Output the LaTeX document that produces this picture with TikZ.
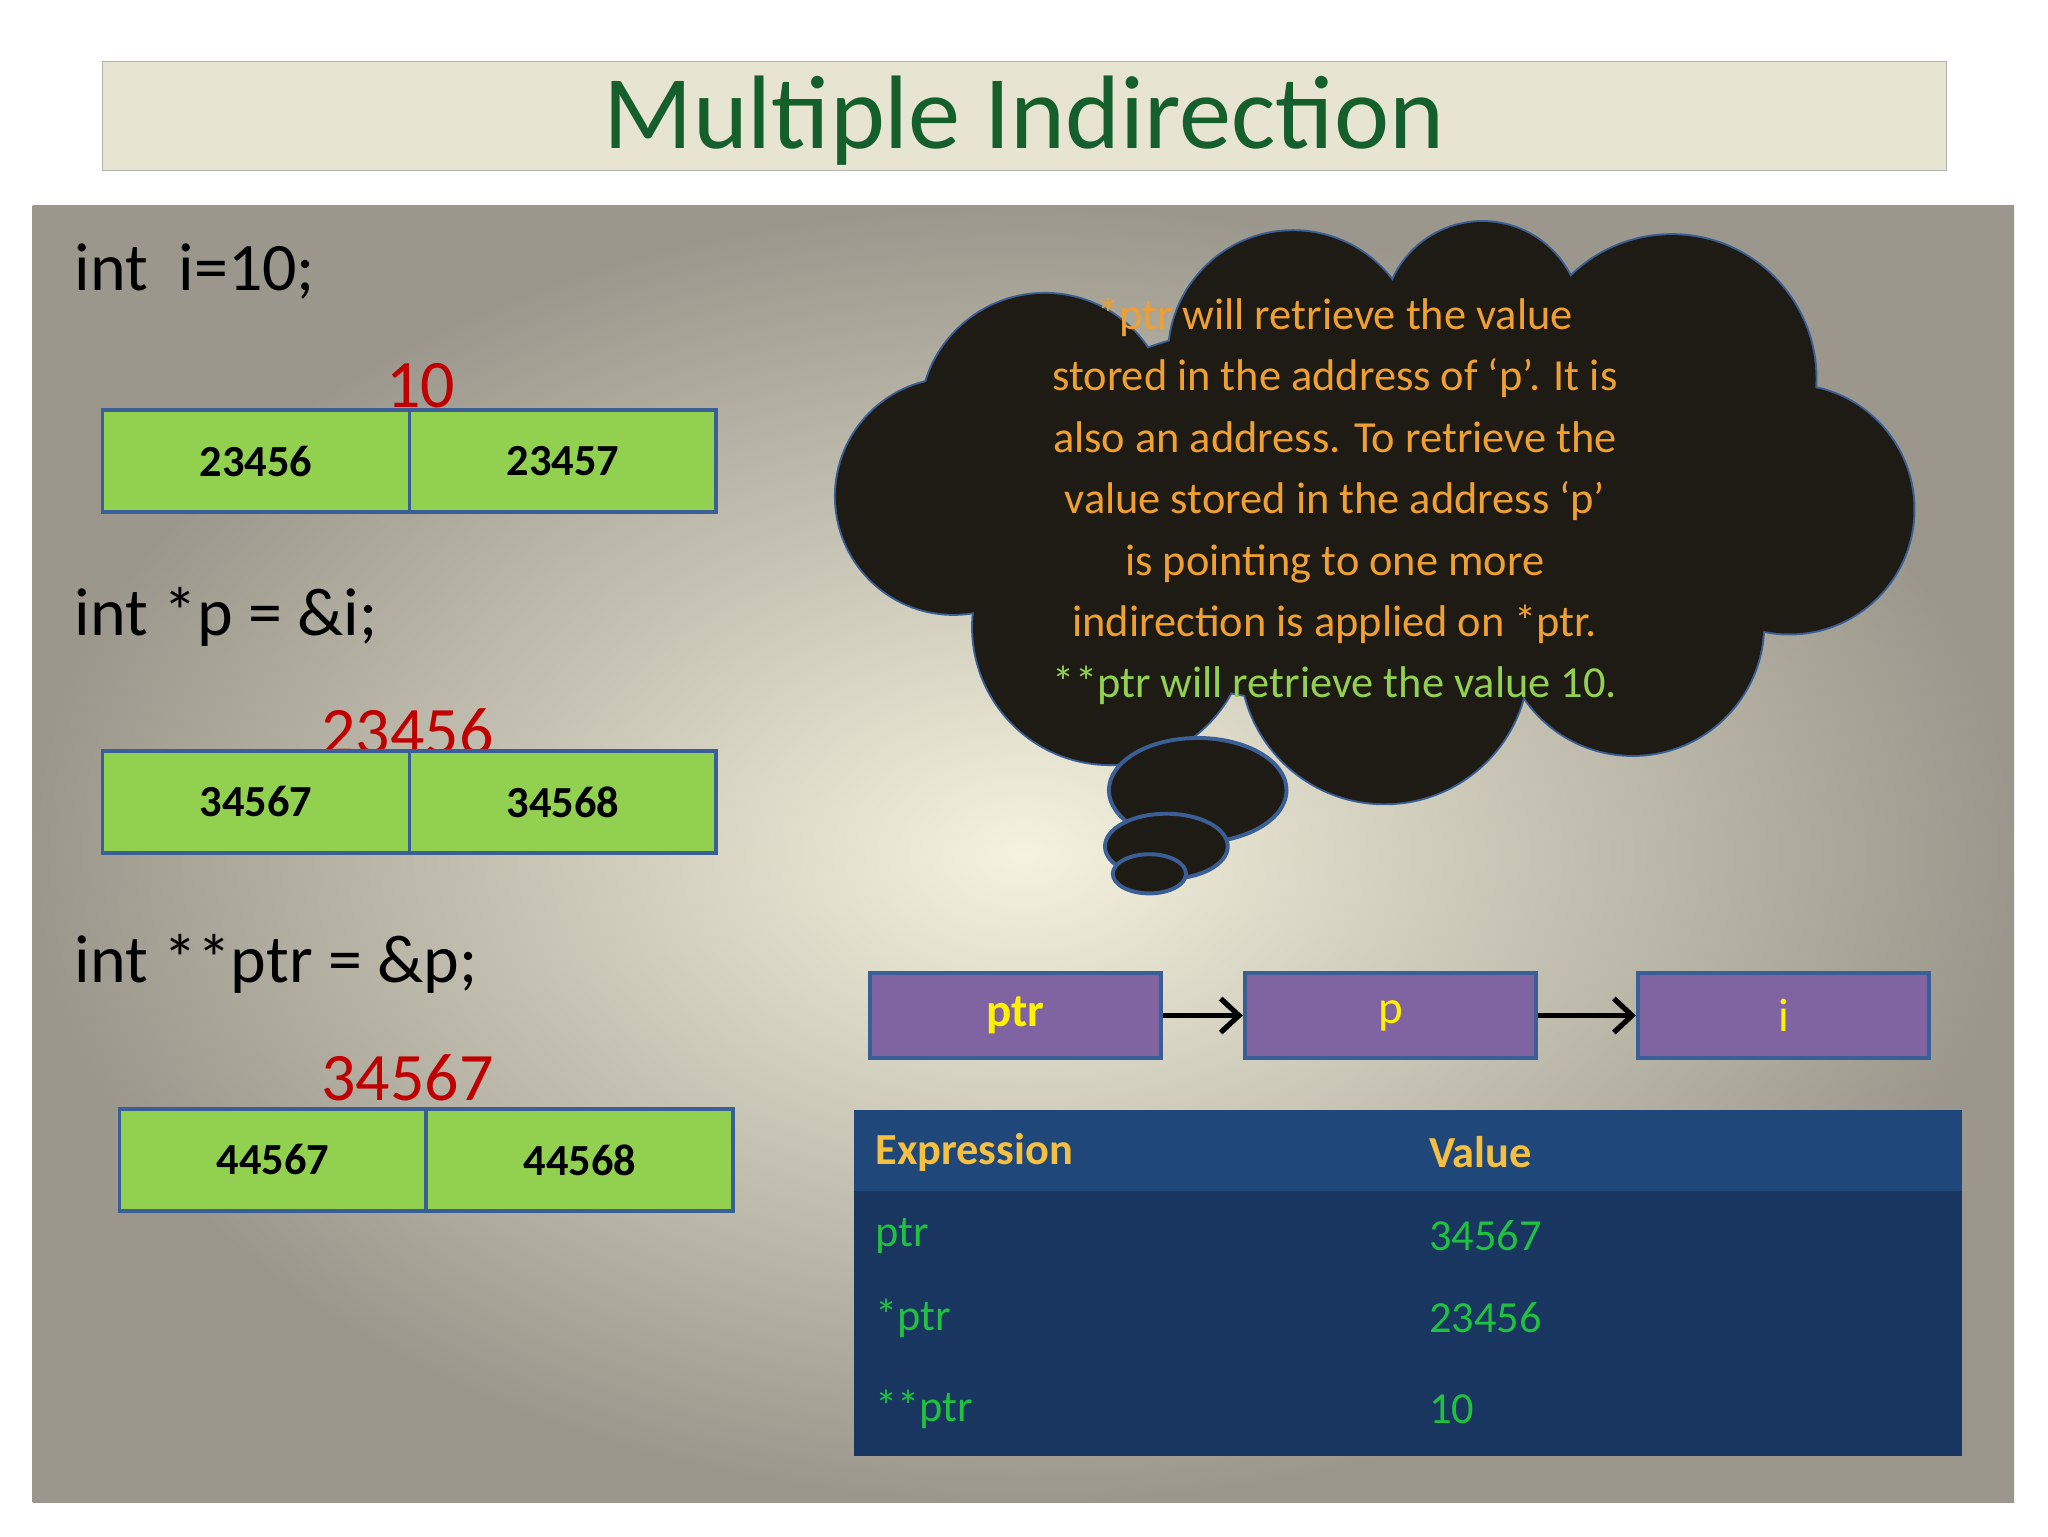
\documentclass[tikz,border=0pt]{standalone}
\usepackage{fontspec}
\setmainfont{Carlito}
\usetikzlibrary{arrows.meta,shapes.geometric}
\definecolor{bord}{HTML}{3A5F96}
\definecolor{cellg}{HTML}{92D050}
\definecolor{purp}{HTML}{8064A2}
\definecolor{redt}{HTML}{C00000}
\definecolor{cloudc}{HTML}{1E1B14}
\definecolor{orng}{HTML}{F0A030}
\definecolor{hdr}{HTML}{1F477A}
\definecolor{tbody}{HTML}{18365F}
\definecolor{tgreen}{HTML}{20C040}
\definecolor{hdrt}{HTML}{F5C040}
\tikzset{x=1pt,y=-1pt,
 cell/.style={draw=bord,line width=3pt,fill=cellg,minimum width=235pt,minimum height=78pt,font=\fontsize{34}{40}\selectfont\bfseries,inner sep=0},
 code/.style={anchor=west,font=\fontsize{52}{60}\selectfont,inner sep=0},
 redv/.style={font=\fontsize{52}{60}\selectfont,text=redt,inner sep=0},
 pbox/.style={draw=bord,line width=3pt,fill=purp,minimum width=223pt,minimum height=65pt,text=yellow,font=\fontsize{36}{40}\selectfont,inner sep=0},
 arr/.style={line width=4pt,-{Straight Barb[length=14pt,width=26pt,line width=4pt]}},
 tt/.style={anchor=west,font=\fontsize{34}{40}\selectfont,text=tgreen,inner sep=0},
}
\begin{document}
\begin{tikzpicture}
\useasboundingbox (0,0) rectangle (1568,1176);
\fill[white] (0,0) rectangle (1568,1176);
% title
\node[draw=gray!60,fill={rgb,255:red,232;green,228;blue,210},minimum width=1412pt,minimum height=83pt,inner sep=0] (title) at (784,88.5) {};
\node[font=\fontsize{80}{90}\selectfont,text={rgb,255:red,20;green,95;blue,45}] (tt) at (784,92) {Multiple Indirection};
% panel
\shade[inner color={rgb,255:red,245;green,242;blue,222},outer color={rgb,255:red,155;green,151;blue,140}] (25,157) rectangle (1542,1150);
% code
\node[code] (c1) at (57,208) {int\ \ i=10;};
\node[code] (c2) at (57,472) {int *p = \&i;};
\node[code] (c3) at (57,738) {int **ptr = \&p;};
\node[redv] (r1) at (322,295) {10};
\node[redv] (r2) at (312,560) {23456};
\node[redv] (r3) at (312,825) {34567};
\node[cell] (a1) at (196,353) {23456};
\node[cell] (a2) at (431,353) {23457};
\node[cell] (b1) at (196,614) {34567};
\node[cell] (b2) at (431,614) {34568};
\node[cell] (d1) at (209,888) {44567};
\node[cell] (d2) at (444,888) {44568};
% cloud
\def\cloudshapes{
 \path (800,320) circle (95);
 \path (990,272) circle (95);
 \path (1135,245) circle (75);
 \path (1280,290) circle (110);
 \path (1370,390) circle (95);
 \path (1250,478) circle (100);
 \path (1060,505) circle (110);
 \path (850,480) circle (105);
 \path (730,380) circle (90);
 \path (1050,390) ellipse (300 and 150);
}
\begin{scope}[every path/.style={draw=bord,line width=3pt,fill=cloudc}]
\cloudshapes
\end{scope}
\begin{scope}[every path/.style={fill=cloudc}]
\cloudshapes
\end{scope}
\draw[draw=bord,line width=3pt,fill=cloudc] (917,605) ellipse (68 and 40);
\draw[draw=bord,line width=3pt,fill=cloudc] (893,648) ellipse (47 and 25);
\draw[draw=bord,line width=3pt,fill=cloudc] (880,669) ellipse (28 and 15);
\node[align=center,text=orng,font=\fontsize{34}{47}\selectfont,inner sep=0] (ct) at (1022,384) {*ptr will retrieve the value\\stored in the address of ‘p’. It is\\also an address. To retrieve the\\value stored in the address ‘p’\\is pointing to one more\\indirection is applied on *ptr.\\\textcolor{cellg}{**ptr will retrieve the value 10.}};
% pointer chain
\node[pbox,font=\fontsize{36}{40}\selectfont\bfseries] (ptr) at (777.5,777.5) {ptr};
\node[pbox] (p) at (1064.5,777.5) {p};
\node[pbox] (i) at (1365.5,777.5) {i};
\draw[arr] (ptr) -- (p);
\draw[arr] (p) -- (i);
% table
\fill[tbody] (654,850) rectangle (1502,1115);
\fill[hdr] (654,850) rectangle (1502,912);
\node[tt,text=hdrt,font=\fontsize{34}{40}\selectfont\bfseries] (h1) at (670,882) {Expression};
\node[tt,text=hdrt,font=\fontsize{34}{40}\selectfont\bfseries] (h2) at (1094,882) {Value};
\node[tt] (e1) at (670,946) {ptr};
\node[tt] (e2) at (670,1009) {*ptr};
\node[tt] (e3) at (670,1079) {**ptr};
\node[tt] (v1) at (1094,946) {34567};
\node[tt] (v2) at (1094,1009) {23456};
\node[tt] (v3) at (1094,1079) {10};
\end{tikzpicture}
\end{document}
